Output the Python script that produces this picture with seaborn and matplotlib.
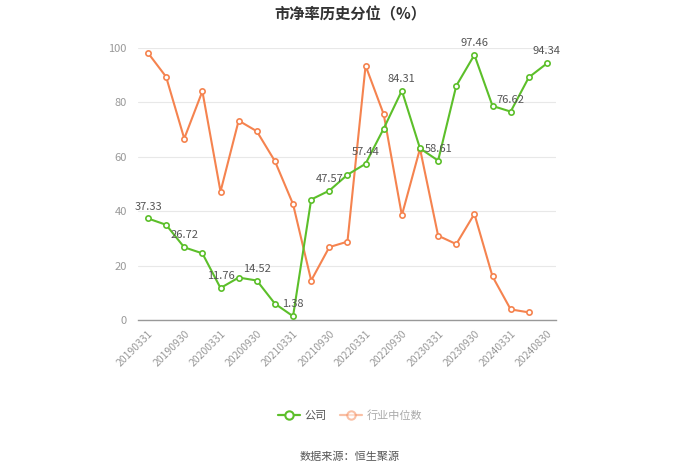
import matplotlib
matplotlib.use("Agg")
import matplotlib.pyplot as plt
import seaborn as sns
import pandas as pd
import numpy as np
from matplotlib.lines import Line2D

sns.set_style("white")
plt.rcParams['font.family'] = ['Noto Sans CJK SC', 'DejaVu Sans']

dates = ["20190331", "20190630", "20190930", "20191231", "20200331", "20200630",
         "20200930", "20201231", "20210331", "20210630", "20210930", "20211231",
         "20220331", "20220630", "20220930", "20221231", "20230331", "20230630",
         "20230930", "20231231", "20240331", "20240630", "20240830"]
company = [37.33, 35.0, 26.72, 24.5, 11.76, 15.6, 14.52, 6.0, 1.38, 44.3, 47.57, 53.4,
           57.44, 70.4, 84.31, 63.1, 58.61, 86.1, 97.46, 78.7, 76.62, 89.2, 94.34]
industry = [98.2, 89.4, 66.7, 84.1, 47.2, 73.3, 69.4, 58.4, 42.6, 14.5, 26.8, 28.8,
            93.5, 75.6, 38.5, 63.0, 31.0, 27.9, 39.0, 16.0, 3.9, 2.8, None]
tick_labels = ["20190331", "20190930", "20200331", "20200930", "20210331", "20210930",
               "20220331", "20220930", "20230331", "20230930", "20240331", "20240830"]

green = "#5cbf2a"
orange = "#f5834f"

df = pd.DataFrame({"idx": np.arange(len(dates)), "date": dates,
                   "公司": company, "行业中位数": industry})

fig = plt.figure(figsize=(7, 4.73), dpi=100)
ax = fig.add_axes([138/700, 1-320/473, (556-138)/700, (320-48)/473])

sns.lineplot(data=df.dropna(subset=["行业中位数"]), x="idx", y="行业中位数", ax=ax,
             color=orange, linewidth=1.5, marker="o", markersize=3.8,
             markerfacecolor="white", markeredgecolor=orange, markeredgewidth=1.2,
             clip_on=False, zorder=3)
sns.lineplot(data=df, x="idx", y="公司", ax=ax,
             color=green, linewidth=1.5, marker="o", markersize=3.8,
             markerfacecolor="white", markeredgecolor=green, markeredgewidth=1.2,
             clip_on=False, zorder=4)

for i in range(0, len(dates), 2):
    ax.annotate(f"{company[i]:.2f}", (i, company[i]), xytext=(0, 5),
                textcoords="offset points", ha="center", va="bottom",
                fontsize=8, color="#555555", zorder=5)

ax.set_xlim(-0.55, 22.5)
ax.set_ylim(0, 100)
ax.set_yticks([0, 20, 40, 60, 80, 100])
ax.tick_params(axis="y", length=0, labelsize=8, colors="#999999", pad=8)
tick_pos = [dates.index(t) for t in tick_labels]
ax.set_xticks(tick_pos)
ax.set_xticklabels(tick_labels, rotation=45, ha="right", rotation_mode="anchor",
                   fontsize=7.5, color="#999999")
ax.tick_params(axis="x", length=4, color="#999999", pad=2)
ax.grid(axis="y", color="#e8e8e8", linewidth=0.8)
ax.set_axisbelow(True)
ax.set_xlabel("")
ax.set_ylabel("")
for s in ["top", "right", "left"]:
    ax.spines[s].set_visible(False)
ax.spines["bottom"].set_color("#999999")
ax.spines["bottom"].set_linewidth(1)

fig.text(0.5, 1-14/473, "市净率历史分位（%）", ha="center", va="center",
         fontsize=11, fontweight="bold", color="#333333")

handles = [Line2D([0], [0], color=green, linewidth=1.6, marker="o", markersize=6,
                  markerfacecolor="white", markeredgecolor=green, markeredgewidth=1.5),
           Line2D([0], [0], color=orange, linewidth=1.6, marker="o", markersize=6,
                  markerfacecolor="white", markeredgecolor=orange, markeredgewidth=1.5,
                  alpha=0.5)]
leg = fig.legend(handles, ["公司", "行业中位数"], loc="center", bbox_to_anchor=(0.5, 1-416/473),
                 ncol=2, frameon=False, fontsize=8, handlelength=2, columnspacing=1.2,
                 handletextpad=0.4)
leg.get_texts()[0].set_color("#555555")
leg.get_texts()[1].set_color("#aaaaaa")

fig.text(0.5, 1-457/473, "数据来源：恒生聚源", ha="center", va="center",
         fontsize=8, color="#555555")

fig.savefig("out.png", dpi=100)
